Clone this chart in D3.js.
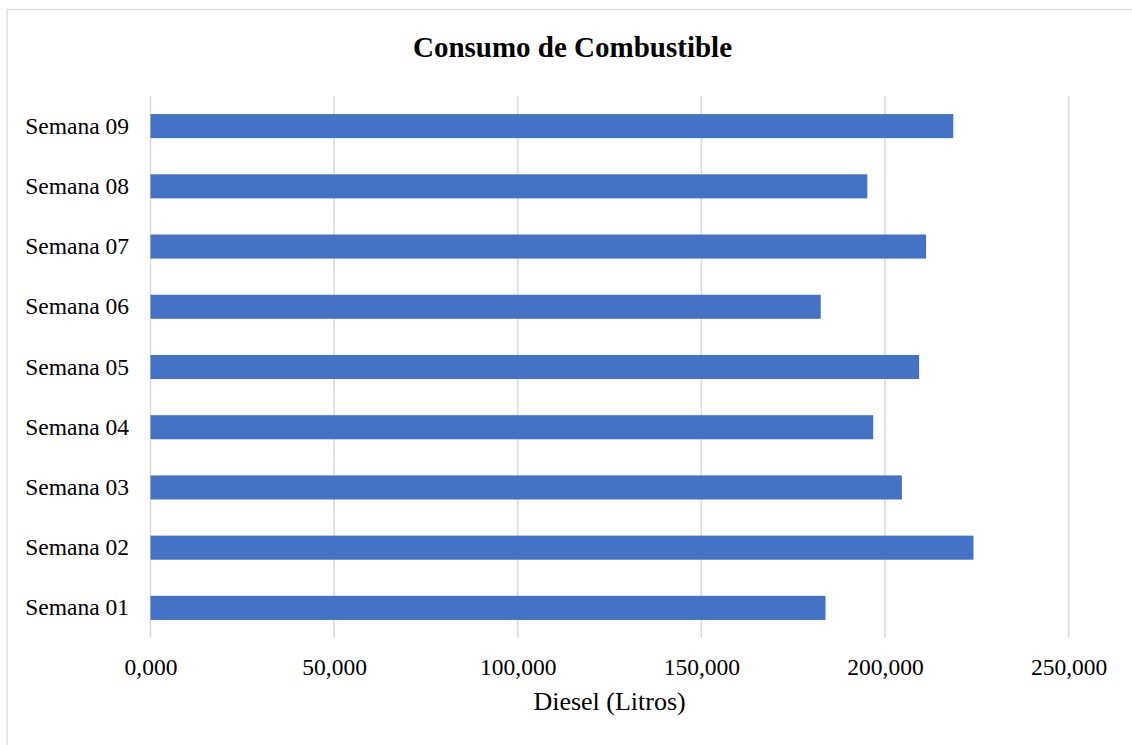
<!DOCTYPE html>
<html lang="es">
<head>
<meta charset="utf-8">
<title>Consumo de Combustible</title>
<script src="https://cdnjs.cloudflare.com/ajax/libs/d3/7.8.5/d3.min.js"></script>
<style>
  body { margin: 0; background: #fff; }
  svg text { font-family: "Liberation Serif", "Times New Roman", serif; fill: #000; }
</style>
</head>
<body>
<div id="chart"></div>
<script>
// data
const weeks = ["Semana 01", "Semana 02", "Semana 03", "Semana 04", "Semana 05",
               "Semana 06", "Semana 07", "Semana 08", "Semana 09"];
const diesel = [183800, 224100, 204600, 196800, 209300, 182500, 211200, 195200, 218600];
const xTicks = [0, 50000, 100000, 150000, 200000, 250000];

const width = 1132, height = 745;
const marginLeft = 150.5, marginRight = 63.4, marginTop = 96, marginBottom = 107;

const svg = d3.select("#chart").append("svg")
    .attr("width", width)
    .attr("height", height);

// outer chart border (only top and left visible in the picture)
svg.append("rect")
    .attr("x", 7).attr("y", 9.5)
    .attr("width", width).attr("height", height)
    .attr("fill", "none")
    .attr("stroke", "#d9d9d9")
    .attr("stroke-width", 1.3);

const x = d3.scaleLinear()
    .domain([0, 250000])
    .range([marginLeft, width - marginRight]);

const y = d3.scaleBand()
    .domain(weeks.slice().reverse())
    .range([marginTop, height - marginBottom])
    .paddingInner(0.6)
    .paddingOuter(0.3);

// gridlines
svg.append("g")
    .selectAll("line")
    .data(xTicks)
    .join("line")
    .attr("x1", d => x(d)).attr("x2", d => x(d))
    .attr("y1", marginTop).attr("y2", height - marginBottom)
    .attr("stroke", "#d9d9d9")
    .attr("stroke-width", 1.5);

// bars
svg.append("g")
    .selectAll("rect")
    .data(weeks)
    .join("rect")
    .attr("x", x(0))
    .attr("y", d => y(d))
    .attr("width", (d, i) => x(diesel[i]) - x(0))
    .attr("height", y.bandwidth())
    .attr("fill", "#4472c4");

// x axis labels
const fmt = d => d === 0 ? "0,000" : d3.format(",")(d);
const xAxis = d3.axisBottom(x).tickValues(xTicks).tickFormat(fmt).tickSize(0).tickPadding(0);
const gx = svg.append("g")
    .attr("transform", "translate(0," + (height - marginBottom) + ")")
    .call(xAxis);
gx.select(".domain").remove();
gx.selectAll("text")
    .attr("y", 37)
    .attr("dy", 0)
    .style("font-size", "23.5px")
    .style("font-family", "'Liberation Serif', serif");

// y axis labels
const yAxis = d3.axisLeft(y).tickSize(0).tickPadding(0);
const gy = svg.append("g")
    .attr("transform", "translate(129,0)")
    .call(yAxis);
gy.select(".domain").remove();
gy.selectAll("text")
    .attr("dy", "0.32em")
    .style("font-size", "23.5px")
    .style("font-family", "'Liberation Serif', serif");

// title
svg.append("text")
    .attr("x", 572.5).attr("y", 56.5)
    .attr("text-anchor", "middle")
    .style("font-size", "29px")
    .style("font-weight", "bold")
    .text("Consumo de Combustible");

// axis title
svg.append("text")
    .attr("x", (marginLeft + width - marginRight) / 2).attr("y", 710)
    .attr("text-anchor", "middle")
    .style("font-size", "26px")
    .text("Diesel (Litros)");
</script>
</body>
</html>
